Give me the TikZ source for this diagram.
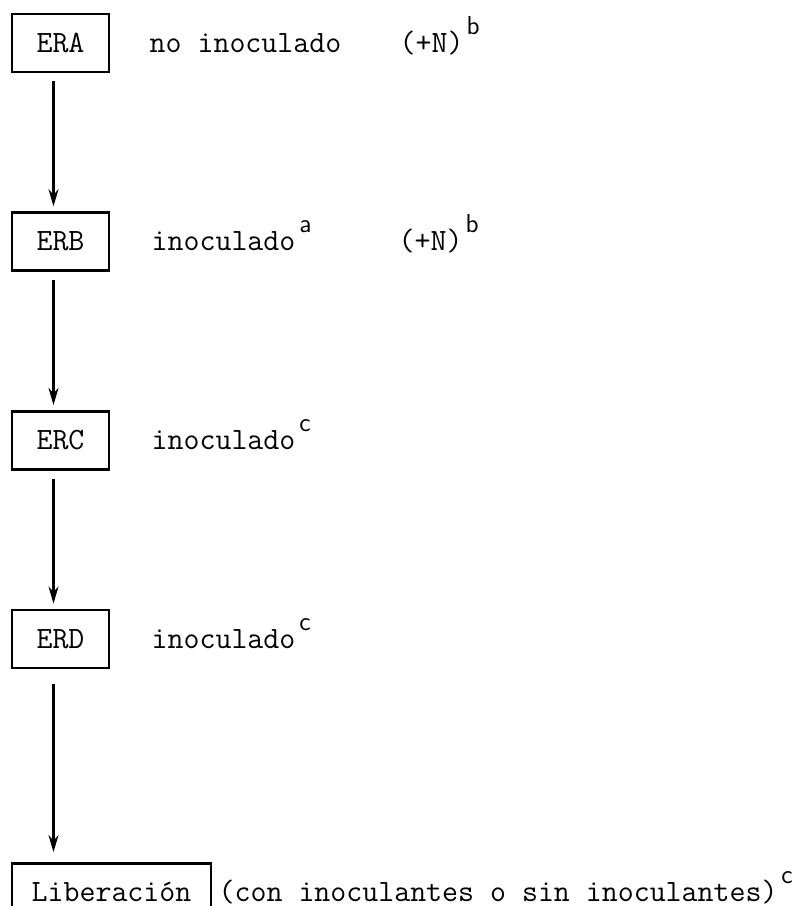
\documentclass[tikz,border=0pt]{standalone}
\usepackage{tikz}
\usetikzlibrary{arrows.meta, positioning}
\newcommand{\supnote}[1]{\raisebox{9pt}{\fontsize{13}{13}\selectfont\sffamily #1}}

\begin{document}
\begin{tikzpicture}[
  x=0.5pt, y=-0.5pt,
  node distance=69pt,
  every node/.style={font=\fontsize{15.5}{17}\selectfont\ttfamily},
  stage/.style={rectangle, draw=black, line width=1.3pt, minimum width=48.5pt,
                minimum height=29pt, inner sep=0pt},
  note/.style={anchor=base west, inner sep=0pt},
  arrow/.style={-{Stealth[length=8.5pt, width=5pt]}, line width=1.1pt,
                shorten <=4pt, shorten >=2.5pt},
]
\useasboundingbox (0,0) rectangle (807,906);
\clip (0,0) rectangle (807,906);

% Nodes
\node[stage] (era) at (60.5,43) {ERA};
\node[stage, below=of era] (erb) {ERB};
\node[stage, below=of erb] (erc) {ERC};
\node[stage, below=of erc] (erd) {ERD};
\node[stage, below=96.5pt of erd.south west, anchor=north west, minimum width=99.5pt] (lib)
  {Liberación};

% Labels
\node[note] (eranote) at ([xshift=19.5pt]era.base east) {no inoculado};
\node[note] (eraplus) at ([xshift=144.5pt]era.base east) {(+N)\hspace{1.5pt}\supnote{b}};
\node[note] (erbnote) at ([xshift=20.5pt]erb.base east) {inoculado\hspace{2pt}\supnote{a}};
\node[note] (erbplus) at ([xshift=144pt]erb.base east) {(+N)\hspace{1.5pt}\supnote{b}};
\node[note] (ercnote) at ([xshift=20.5pt]erc.base east) {inoculado\hspace{2pt}\supnote{c}};
\node[note] (erdnote) at ([xshift=20.5pt]erd.base east) {inoculado\hspace{2pt}\supnote{c}};
\node[note] (libnote) at ([xshift=3pt]lib.base east)
  {(con inoculantes o sin inoculantes)\hspace{2pt}\supnote{c}};

% Arrows
\coordinate (libin) at ([xshift=-3.5pt]erd.south |- lib.north);
\draw[arrow] ([xshift=-3.5pt]era.south) -- ([xshift=-3.5pt]erb.north);
\draw[arrow] ([xshift=-3.5pt]erb.south) -- ([xshift=-3.5pt]erc.north);
\draw[arrow] ([xshift=-3.5pt]erc.south) -- ([xshift=-3.5pt]erd.north);
\draw[arrow, shorten <=7.5pt, shorten >=5pt] ([xshift=-3.5pt]erd.south) -- (libin);

\end{tikzpicture}
\end{document}
